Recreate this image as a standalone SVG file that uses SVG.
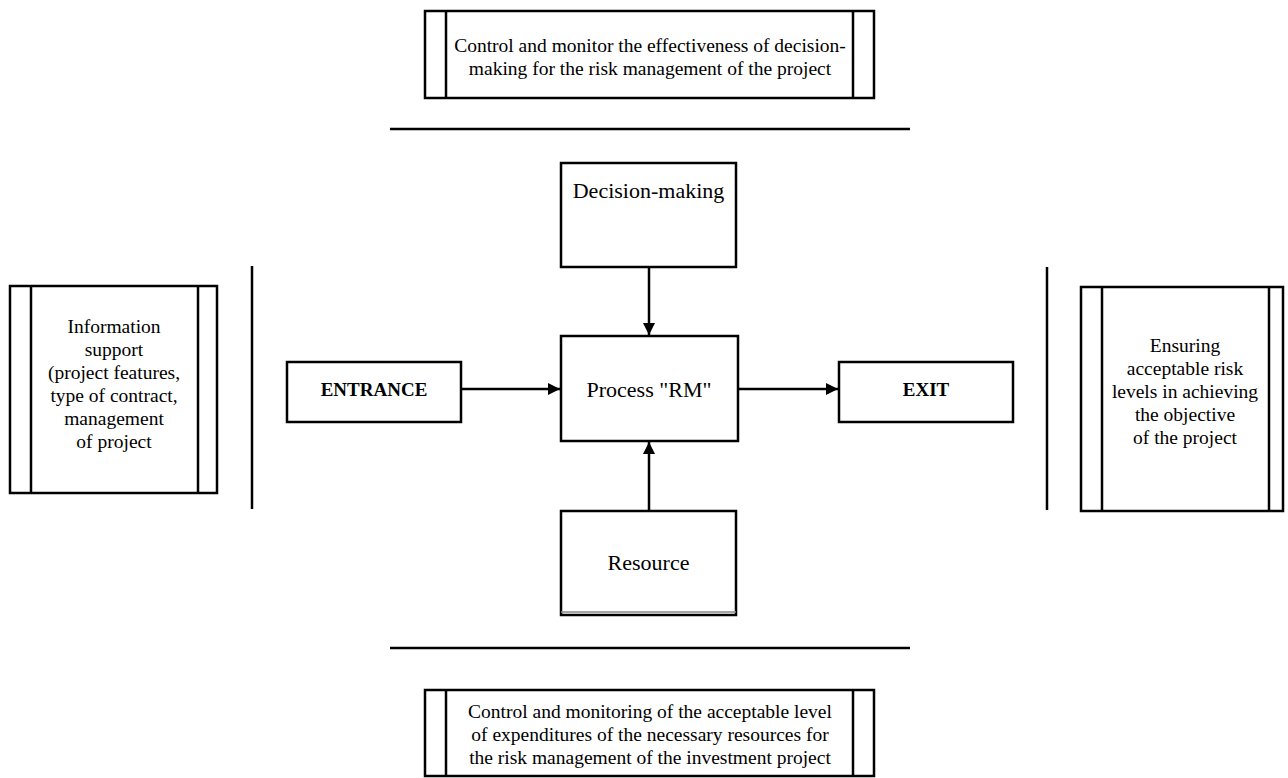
<svg xmlns="http://www.w3.org/2000/svg" width="1288" height="778" viewBox="0 0 1288 778">
<style>
.box{fill:#fff;stroke:#000;stroke-width:2.5}
.ln{stroke:#000;stroke-width:2.5;fill:none}
.t{font-family:"Liberation Serif","Times New Roman",serif;font-size:19.5px;fill:#000;text-anchor:middle}
.tb{font-weight:bold;font-size:19px}
.tl{font-size:22px}
.con{stroke:#000;stroke-width:2.5;fill:none;marker-end:url(#ah)}
</style>
<defs>
<marker id="ah" markerWidth="12" markerHeight="12" refX="12" refY="6" orient="auto" markerUnits="userSpaceOnUse">
<path d="M0,0 L12,6 L0,12 Z" fill="#000"/>
</marker>
</defs>
<rect width="1288" height="778" fill="#fff"/>

<g id="top-control">
<rect class="box" x="425" y="11" width="449" height="87"/>
<line class="ln" x1="446" y1="11" x2="446" y2="98"/>
<line class="ln" x1="853" y1="11" x2="853" y2="98"/>
<text class="t" x="650" y="52">Control and monitor the effectiveness of decision-</text>
<text class="t" x="650" y="75">making for the risk management of the project</text>
</g>

<g id="separators">
<line class="ln" x1="390" y1="129" x2="910" y2="129"/>
<line class="ln" x1="390" y1="648" x2="910" y2="648"/>
<line class="ln" x1="252" y1="266" x2="252" y2="509"/>
<line class="ln" x1="1047" y1="267" x2="1047" y2="510"/>
</g>

<g id="decision">
<rect class="box" x="561" y="163" width="175" height="104"/>
<text class="t tl" x="648.5" y="198">Decision-making</text>
</g>

<g id="process">
<rect class="box" x="561" y="336" width="177" height="105"/>
<text class="t tl" x="649" y="397">Process "RM"</text>
</g>

<g id="entrance">
<rect class="box" x="287" y="362" width="174" height="60"/>
<text class="t tb" x="374" y="396">ENTRANCE</text>
</g>

<g id="exit">
<rect class="box" x="839" y="362" width="174" height="60"/>
<text class="t tb" x="926" y="396">EXIT</text>
</g>

<g id="resource">
<rect class="box" x="561" y="511" width="175" height="104"/>
<line x1="561" y1="612" x2="736" y2="612" stroke="#888" stroke-width="1.5"/>
<text class="t tl" x="648.5" y="570">Resource</text>
</g>

<g id="info-support">
<rect class="box" x="10" y="286" width="207" height="207"/>
<line class="ln" x1="31" y1="286" x2="31" y2="493"/>
<line class="ln" x1="198" y1="286" x2="198" y2="493"/>
<text class="t" x="114" y="333">Information</text>
<text class="t" x="114" y="356">support</text>
<text class="t" x="114" y="379">(project features,</text>
<text class="t" x="114" y="402">type of contract,</text>
<text class="t" x="114" y="425">management</text>
<text class="t" x="114" y="448">of project</text>
</g>

<g id="ensuring">
<rect class="box" x="1081" y="287" width="202" height="224"/>
<line class="ln" x1="1102" y1="287" x2="1102" y2="511"/>
<line class="ln" x1="1269" y1="287" x2="1269" y2="511"/>
<text class="t" x="1185" y="352">Ensuring</text>
<text class="t" x="1185" y="375">acceptable risk</text>
<text class="t" x="1185" y="398">levels in achieving</text>
<text class="t" x="1185" y="421">the objective</text>
<text class="t" x="1185" y="444">of the project</text>
</g>

<g id="bottom-control">
<rect class="box" x="425" y="690" width="449" height="86"/>
<line class="ln" x1="446" y1="690" x2="446" y2="776"/>
<line class="ln" x1="853" y1="690" x2="853" y2="776"/>
<text class="t" x="650" y="718">Control and monitoring of the acceptable level</text>
<text class="t" x="650" y="741">of expenditures of the necessary resources for</text>
<text class="t" x="650" y="764">the risk management of the investment project</text>
</g>

<g id="connectors">
<line class="con" x1="649" y1="267" x2="649" y2="335"/>
<line class="con" x1="461" y1="389" x2="560" y2="389"/>
<line class="con" x1="738" y1="389" x2="838" y2="389"/>
<line class="con" x1="649" y1="511" x2="649" y2="442"/>
</g>
</svg>
